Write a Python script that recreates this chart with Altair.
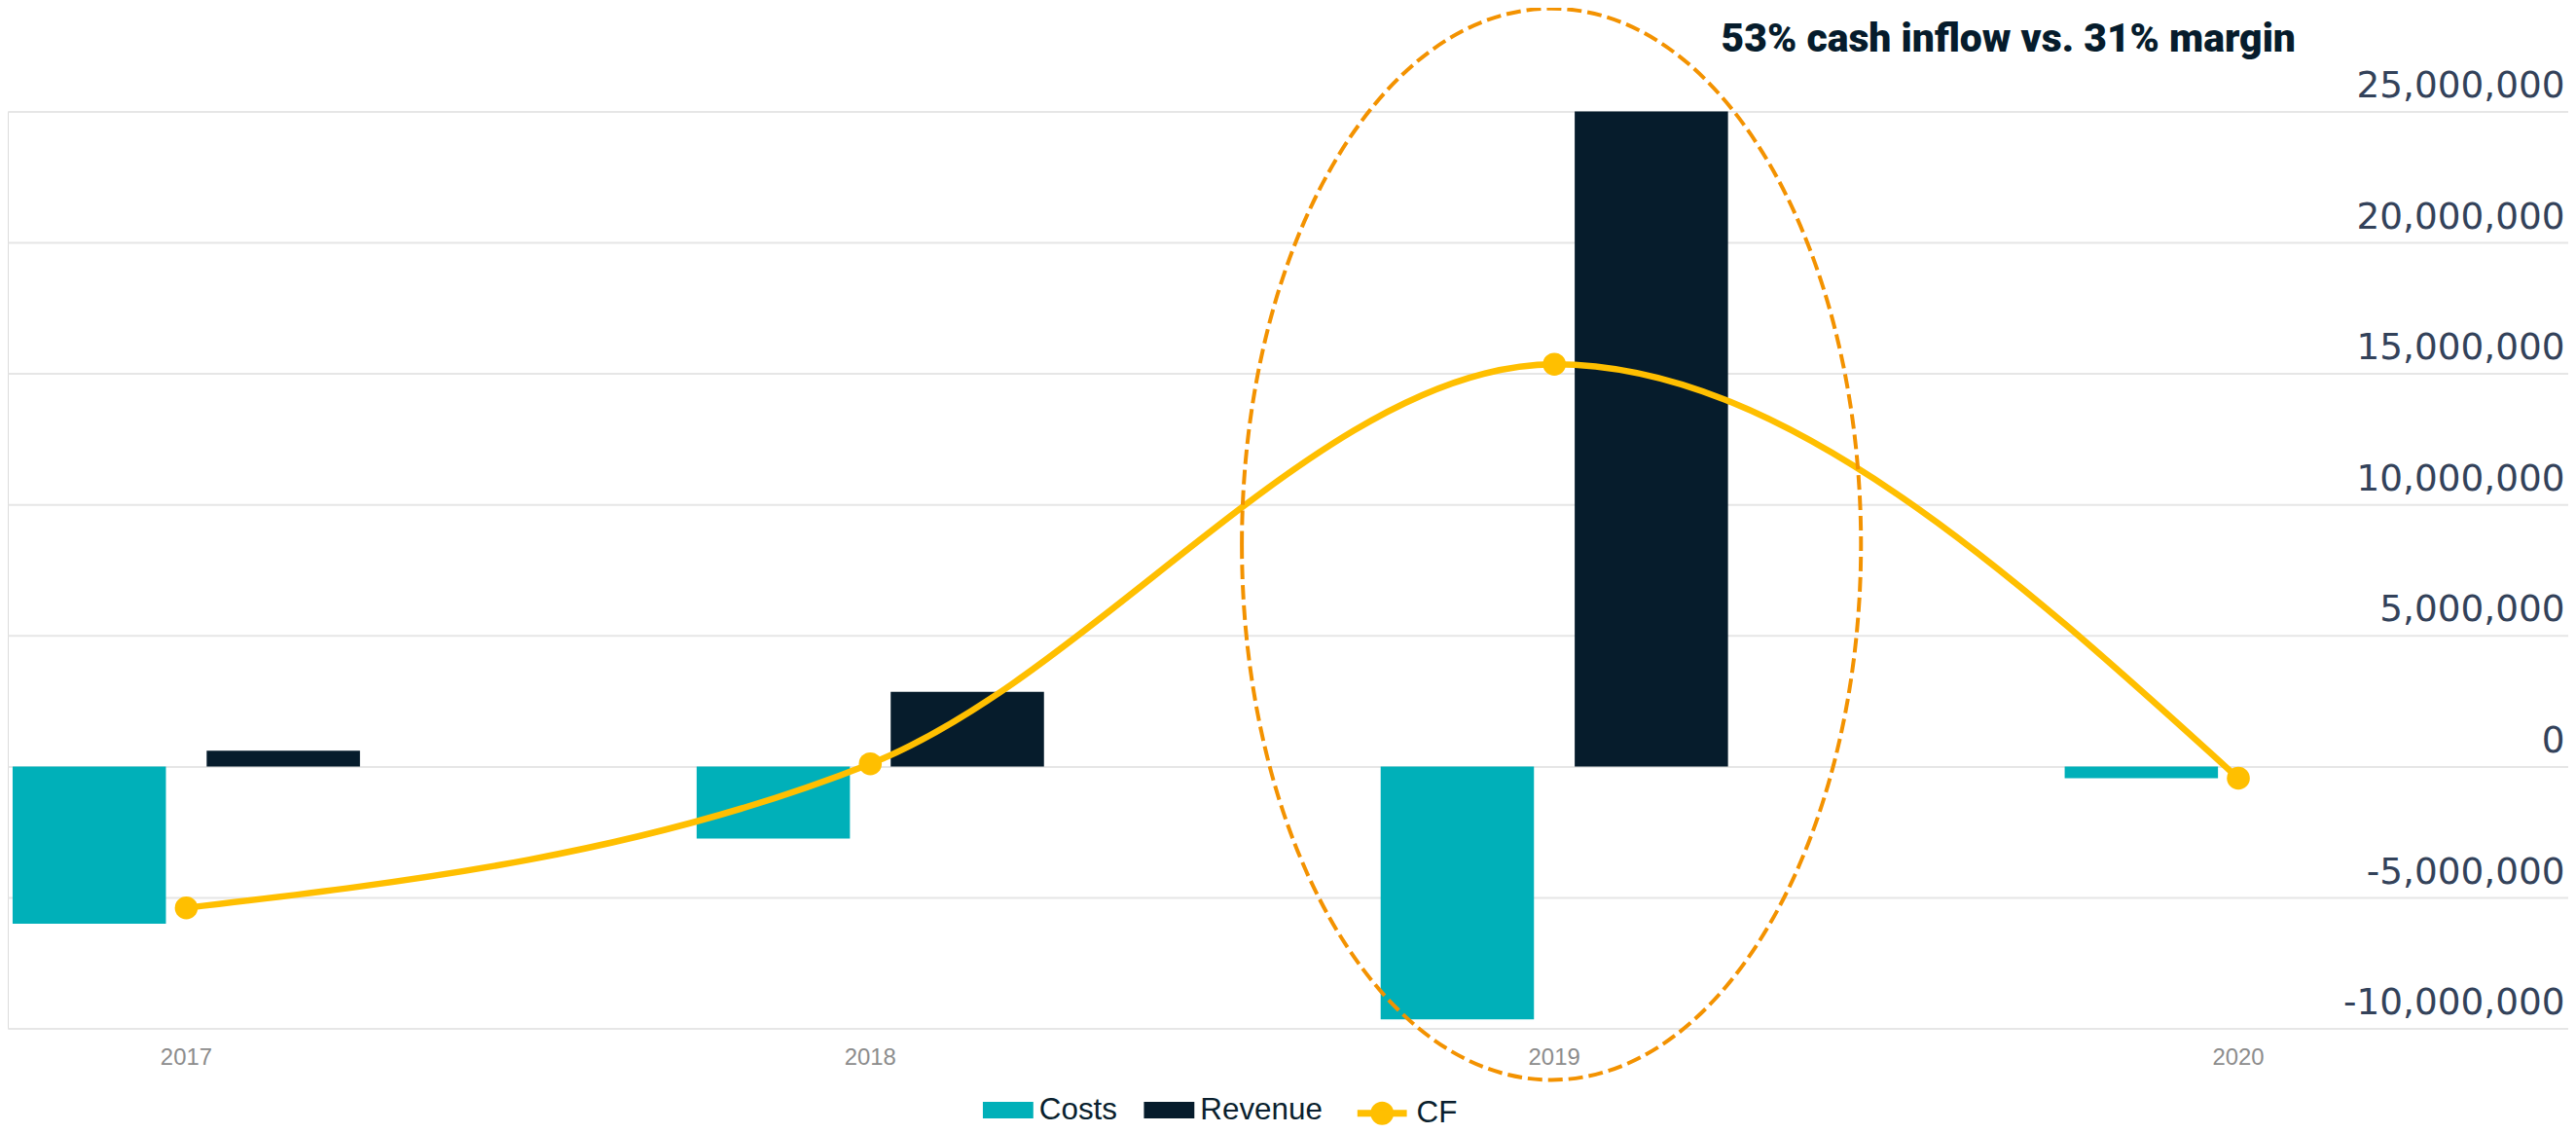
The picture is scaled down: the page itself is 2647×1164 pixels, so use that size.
import altair as alt
import pandas as pd

# ---- data ----
years = ["2017", "2018", "2019", "2020"]
costs = [-6000000, -2750000, -9650000, -450000]
revenue = [600000, 2850000, 25000000, 0]
cf = [-5400000, 100000, 15350000, -450000]

bar_series = ["Costs", "Revenue"]
bar_colors = ["#00b0b9", "#061c2c"]
line_series = ["CF"]
line_colors = ["#ffbf00"]

y_ticks = [-10000000, -5000000, 0, 5000000, 10000000, 15000000, 20000000, 25000000]

note_text = ["53% cash inflow vs. 31% margin"]
note_year = ["2019"]
note_value = [27300000]
ellipse_year = ["2019"]
ellipse_value = [8480000]

# ---- tables ----
bars = pd.DataFrame(
    {
        "year": years * 2,
        "series": ["Costs"] * len(years) + ["Revenue"] * len(years),
        "value": costs + revenue,
    }
)
line = pd.DataFrame({"year": years, "series": ["CF"] * len(years), "value": cf})
note = pd.DataFrame({"year": note_year, "value": note_value, "text": note_text})
ell = pd.DataFrame({"year": ellipse_year, "value": ellipse_value})

W, H = 2639, 945

legend_common = dict(
    title=None,
    orient="none",
    direction="horizontal",
    padding=0,
    labelFont="Liberation Sans",
    labelFontSize=31.5,
    labelColor="#0a1f2e",
    labelOffset=6,
    columnPadding=27,
    symbolSize=2704,
    symbolOpacity=1,
    labelLimit=0,
)

x_enc = alt.X(
    "year:N",
    sort=years,
    scale=alt.Scale(paddingInner=0.4922, paddingOuter=0.1177, align=0.03),
    axis=alt.Axis(
        title=None,
        labelAngle=0,
        domain=False,
        ticks=False,
        grid=False,
        labelFont="Liberation Sans",
        labelFontSize=24,
        labelColor="#8c8c8c",
        labelPadding=18,
    ),
)

y_scale = alt.Scale(domain=[-10000000, 25000000], nice=False, zero=False)

y_enc = alt.Y(
    "value:Q",
    scale=y_scale,
    axis=alt.Axis(
        title=None,
        orient="right",
        values=y_ticks,
        grid=True,
        gridColor="#e6e6e6",
        gridWidth=2,
        domain=False,
        ticks=False,
        tickSize=0,
        labelAlign="right",
        labelBaseline="alphabetic",
        labelPadding=-4,
        labelOffset=-15,
        labelFont="DejaVu Sans",
        labelFontSize=37.5,
        labelColor="#33425a",
        labelLimit=0,
        labelExpr="replace(format(datum.value, ','), '\u2212', '-')",
    ),
)

bar_layer = alt.Chart(bars).mark_bar().encode(
    x=x_enc,
    xOffset=alt.XOffset(
        "series:N",
        sort=bar_series,
        scale=alt.Scale(paddingInner=0.21, paddingOuter=0),
    ),
    y=y_enc,
    color=alt.Color(
        "series:N",
        sort=bar_series,
        scale=alt.Scale(domain=bar_series, range=bar_colors),
        legend=alt.Legend(
            legendX=1005,
            legendY=1003,
            symbolType="M-1,-0.327L1,-0.327L1,0.327L-1,0.327Z",
            symbolStrokeWidth=0,
            **legend_common,
        ),
    ),
)

line_layer = alt.Chart(line).mark_line(
    interpolate="monotone",
    strokeWidth=6.5,
    color=line_colors[0],
).encode(
    x=alt.X("year:N", sort=years),
    y=alt.Y("value:Q"),
)

point_layer = alt.Chart(line).mark_point(
    filled=True, size=560, opacity=1, strokeWidth=0
).encode(
    x=alt.X("year:N", sort=years),
    y=alt.Y("value:Q"),
    fill=alt.Fill(
        "series:N",
        scale=alt.Scale(domain=line_series, range=line_colors),
        legend=alt.Legend(
            legendX=1387,
            legendY=1003,
            symbolType="M-0.98,0L0.98,0M-0.327,0A0.327,0.327 0 1,0 0.327,0A0.327,0.327 0 1,0 -0.327,0",
            symbolFillColor=line_colors[0],
            symbolStrokeColor=line_colors[0],
            symbolStrokeWidth=7,
            **legend_common,
        ),
    ),
)

ellipse_path = "M-0.578,0A0.578,1 0 1,0 0.578,0A0.578,1 0 1,0 -0.578,0Z"
ellipse_layer = alt.Chart(ell).mark_point(
    shape=ellipse_path,
    size=1104 * 1104,
    filled=False,
    stroke="#f39200",
    strokeWidth=4,
    strokeDash=[15, 6],
    opacity=1,
    xOffset=-3,
).encode(
    x=alt.X("year:N", sort=years),
    y=alt.Y("value:Q"),
)

note_layer = alt.Chart(note).mark_text(
    font="Roboto",
    fontWeight=900,
    fontSize=41,
    color="#061c2c",
    align="center",
    baseline="alphabetic",
    dx=468,
).encode(
    x=alt.X("year:N", sort=years),
    y=alt.Y("value:Q"),
    text="text:N",
)

chart = (
    alt.layer(bar_layer, line_layer, point_layer, ellipse_layer, note_layer)
    .properties(
        width=W,
        height=H,
        autosize=alt.AutoSizeParams(type="none"),
        padding={"left": 0, "top": 105, "right": 0, "bottom": 106},
    )
    .configure_view(stroke=None)
    .configure(background="white")
)

chart.save("out.html", embed_options={"renderer": "svg", "actions": False})
